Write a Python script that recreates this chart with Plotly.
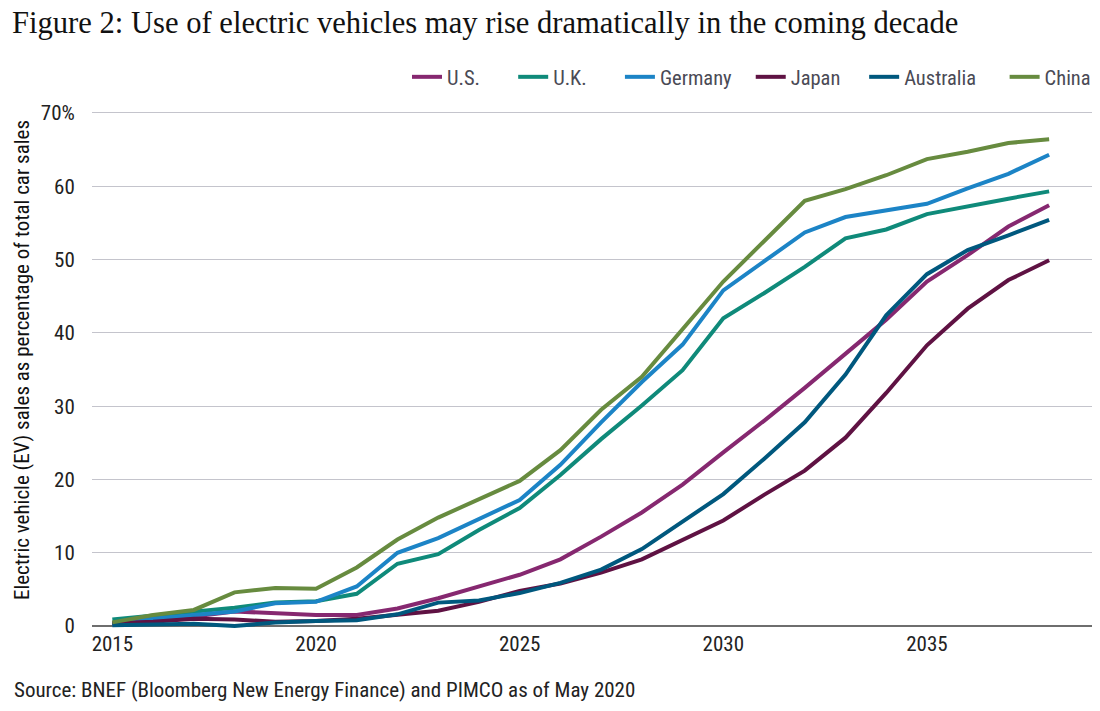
import plotly.graph_objects as go

# years on the x axis
years = list(range(2015, 2039))

# EV share of car sales, %
us = [0.4, 0.9, 1.3, 2.0, 1.7, 1.5, 1.5, 2.4, 3.8, 5.4, 7.0, 9.1, 12.2, 15.5, 19.3, 23.7,
      28.0, 32.5, 37.2, 41.8, 47.0, 50.6, 54.5, 57.4]
uk = [0.9, 1.4, 2.0, 2.5, 3.2, 3.4, 4.4, 8.5, 9.8, 13.1, 16.1, 20.6, 25.5, 30.1, 34.9, 42.0,
      45.4, 49.0, 52.9, 54.1, 56.2, 57.3, 58.3, 59.3]
germany = [0.3, 1.0, 1.5, 2.0, 3.1, 3.3, 5.4, 10.0, 12.0, 14.6, 17.2, 22.0, 27.8, 33.3, 38.4, 45.8,
           49.7, 53.7, 55.8, 56.7, 57.6, 59.7, 61.7, 64.3]
japan = [0.4, 0.6, 1.0, 0.9, 0.6, 0.7, 1.0, 1.5, 2.1, 3.3, 4.8, 5.8, 7.3, 9.1, 11.8, 14.4,
         17.9, 21.2, 25.7, 31.8, 38.3, 43.3, 47.2, 49.9]
australia = [0.1, 0.2, 0.3, 0.0, 0.5, 0.7, 0.8, 1.6, 3.2, 3.5, 4.5, 5.9, 7.7, 10.5, 14.3, 18.0,
             22.8, 27.8, 34.3, 42.4, 48.0, 51.3, 53.3, 55.4]
china = [0.5, 1.5, 2.2, 4.6, 5.2, 5.1, 8.0, 11.8, 14.8, 17.3, 19.8, 24.0, 29.5, 34.0, 40.5, 47.0,
         52.5, 58.0, 59.6, 61.5, 63.7, 64.7, 65.9, 66.4]

names = ["U.S.", "U.K.", "Germany", "Japan", "Australia", "China"]
colors = ["#862870", "#0f8a7a", "#1c84c6", "#5f1243", "#00587e", "#678b3f"]
values = [us, uk, germany, japan, australia, china]

y_ticks = [0, 10, 20, 30, 40, 50, 60, 70]
y_tick_labels = ["0", "10", "20", "30", "40", "50", "60", "70%"]
x_ticks = [2015, 2020, 2025, 2030, 2035]

cond = "Roboto Condensed, Roboto, sans-serif"

# the page puts the plot 8px in from the top-left corner, so the figure is 8px smaller
W, H = 1092, 703
L, R, T, B = 84, 2, 102, 82
plot_w, plot_h = W - L - R, H - T - B

# non-breaking spaces after each legend name, to space the entries like the original
legend_pad = [6, 6, 3, 4, 5, 0]

fig = go.Figure()
for name, vals, color, pad in zip(names, values, colors, legend_pad):
    fig.add_trace(go.Scatter(
        x=years, y=vals, name=name + "\u00a0" * pad, mode="lines",
        line=dict(color=color, width=4),
    ))

fig.update_layout(
    width=W, height=H,
    paper_bgcolor="white", plot_bgcolor="white",
    margin=dict(l=L, r=R, t=T, b=B, autoexpand=False),
    font=dict(family=cond, size=21, color="#333333"),
    title=dict(
        text="Figure 2: Use of electric vehicles may rise dramatically in the coming decade",
        font=dict(family="Liberation Serif, DejaVu Serif, serif", size=30.6, color="#111111"),
        x=4 / W, xanchor="left", xref="container",
        y=1 - 14 / H, yanchor="middle", yref="container",
        automargin=False,
    ),
    legend=dict(
        orientation="h", x=1088 / W, xanchor="right", xref="container",
        y=1 - 69 / H, yanchor="middle", yref="container",
        font=dict(family=cond, size=20.5, color="#4a4a55"),
        itemwidth=30, tracegroupgap=0,
    ),
    showlegend=True,
)

fig.update_xaxes(
    range=[2014.5, 2039.2],
    tickvals=x_ticks, ticktext=[str(t) for t in x_ticks],
    showgrid=False, zeroline=False, showline=False,
    ticks="",
    tickfont=dict(family=cond, size=21, color="#222222"),
    automargin=False,
)

fig.update_yaxes(
    range=[-0.4, 70.4],
    tickvals=y_ticks, ticktext=y_tick_labels,
    showgrid=True, gridcolor="#c4c4cc", gridwidth=1,
    zeroline=True, zerolinecolor="#6e6e6e", zerolinewidth=1.5,
    showline=False,
    ticks="outside", ticklen=12, tickcolor="rgba(0,0,0,0)",
    tickfont=dict(family=cond, size=21, color="#222222"),
    automargin=False,
)

# y axis title as a rotated annotation so it can sit a little above centre, as in the original
fig.add_annotation(
    text="Electric vehicle (EV) sales as percentage of total car sales",
    xref="paper", yref="paper", x=(14 - L) / plot_w, y=1 - (352 - T) / plot_h,
    xanchor="center", yanchor="middle", textangle=-90, showarrow=False,
    font=dict(family=cond, size=21, color="#111111"),
)

fig.add_annotation(
    text="Source: BNEF (Bloomberg New Energy Finance) and PIMCO as of May 2020",
    xref="paper", yref="paper", x=(4 - L) / plot_w, y=-61 / plot_h,
    xanchor="left", yanchor="middle", showarrow=False,
    font=dict(family=cond, size=21, color="#222222"),
)

fig.write_html("out.html")
